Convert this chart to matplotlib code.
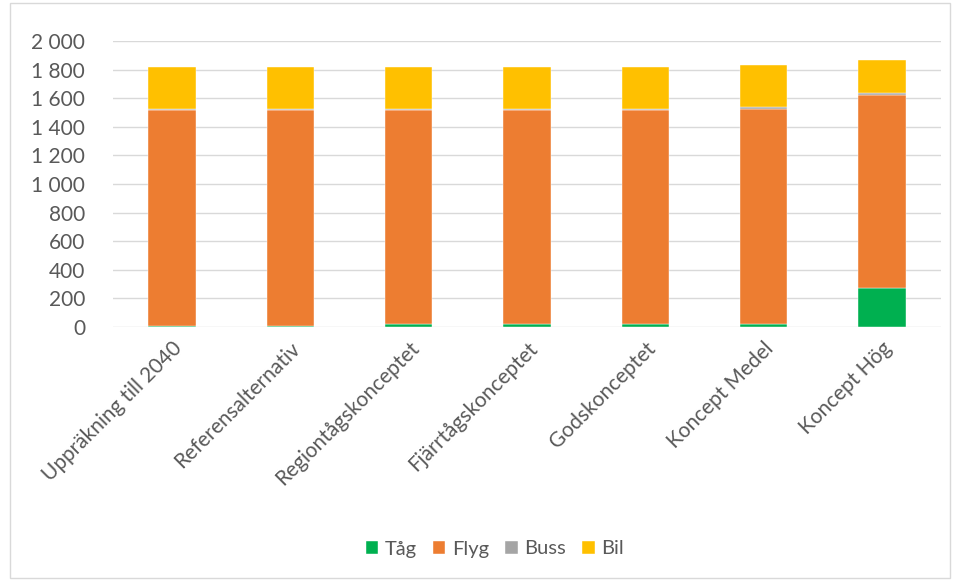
import matplotlib.pyplot as plt
import numpy as np

categories = ["Uppräkning till 2040", "Referensalternativ", "Regiontågskonceptet",
              "Fjärrtågskonceptet", "Godskonceptet", "Koncept Medel", "Koncept Hög"]
tag = [8, 8, 20, 20, 20, 22, 275]
flyg = [1512, 1512, 1500, 1500, 1500, 1502, 1350]
buss = [6, 6, 6, 6, 6, 14, 10]
bil = [290, 290, 290, 290, 290, 292, 232]

series = [("Tåg", tag, "#00B050"), ("Flyg", flyg, "#ED7D31"),
          ("Buss", buss, "#A5A5A5"), ("Bil", bil, "#FFC000")]

plt.rcParams['font.family'] = ['Lato', 'DejaVu Sans']
txt = "#595959"

fig = plt.figure(figsize=(9.55, 5.81), dpi=100)
ax = fig.add_axes([113 / 955, 1 - 327 / 581, 828 / 955, 286 / 581])

x = np.arange(len(categories))
bottom = np.zeros(len(categories))
for name, vals, col in series:
    ax.bar(x, vals, 0.4, bottom=bottom, color=col, label=name,
           edgecolor="white", linewidth=0.3, zorder=3)
    bottom += np.array(vals)

ax.set_xlim(-0.5, len(categories) - 0.5)
ax.set_ylim(0, 2000)
ax.set_yticks(range(0, 2001, 200))
ax.set_yticklabels([f"{v:,}".replace(",", " ") for v in range(0, 2001, 200)])
ax.set_xticks(x)
ax.set_xticklabels(categories, rotation=45, ha="right", rotation_mode="anchor")
ax.tick_params(length=0, labelsize=15, colors=txt, pad=8)
ax.tick_params(axis="y", pad=20)
ax.grid(axis="y", color="#D9D9D9", linewidth=1, zorder=0)
for s in ax.spines.values():
    s.set_visible(False)

leg = fig.legend(loc="center", bbox_to_anchor=(495 / 955, 1 - 549 / 581), ncol=4,
                 frameon=False, fontsize=14.5, handlelength=0.6, handleheight=0.6,
                 handletextpad=0.35, columnspacing=0.8)
for t in leg.get_texts():
    t.set_color(txt)

fig.patches.append(plt.Rectangle((0.01, 0.005), 0.985, 0.99, transform=fig.transFigure,
                                 fill=False, edgecolor="#D9D9D9", linewidth=1))

fig.savefig("out.png", dpi=100)
